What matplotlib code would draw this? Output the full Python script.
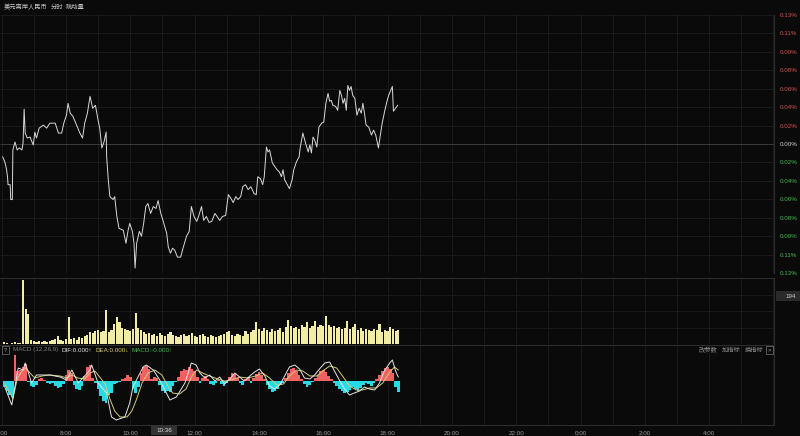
import numpy as np
import matplotlib
matplotlib.use('Agg')
import matplotlib.pyplot as plt
from matplotlib.patches import Rectangle

plt.rcParams['font.family'] = ['Liberation Sans', 'Noto Sans CJK SC', 'DejaVu Sans']

# ---- data ----
# price line: minutes after 6:00, change in %
price_t = [2, 6, 9, 11, 12, 16, 17, 20, 21, 25,
           29, 33, 38, 40, 42, 44, 48, 53, 59, 62,
           65, 70, 78, 84, 90, 100, 106, 112, 116, 121,
           124, 128, 133, 140, 146, 151, 155, 160, 165, 170,
           175, 180, 183, 187, 191, 195, 196, 199, 202, 208,
           211, 215, 219, 227, 232, 236, 239, 244, 247, 249,
           252, 257, 261, 265, 269, 273, 278, 283, 288, 292,
           297, 301, 308, 311, 315, 319, 323, 328, 334, 339,
           345, 350, 354, 359, 364, 368, 373, 377, 382, 387,
           392, 398, 402, 407, 412, 418, 423, 428, 432, 437,
           441, 446, 450, 455, 460, 465, 471, 475, 478, 483,
           487, 490, 494, 497, 500, 505, 510, 514, 518, 522,
           525, 528, 532, 537, 542, 545, 550, 555, 557, 562,
           567, 572, 575, 578, 581, 584, 588, 592, 597, 601,
           605, 609, 612, 615, 618, 623, 627, 631, 634, 637,
           640, 643, 646, 649, 652, 655, 659, 663, 667, 671,
           674, 677, 680, 685, 690, 694, 698, 700, 703, 706,
           710, 715, 719, 722, 726, 729, 731, 735, 739]
price_pct = [-0.013, -0.018, -0.025, -0.033, -0.041, -0.041, -0.056, -0.056, -0.006, 0.002,
             -0.006, -0.004, -0.006, 0.001, 0.035, 0.011, 0.006, 0.007, -0.001, 0.012,
             0.006, 0.016, 0.019, 0.016, 0.021, 0.021, 0.011, 0.011, 0.021, 0.029,
             0.041, 0.031, 0.028, 0.019, 0.011, 0.006, 0.021, 0.031, 0.048, 0.036,
             0.039, 0.024, 0.016, -0.004, 0.002, 0.012, -0.013, -0.036, -0.053, -0.056,
             -0.053, -0.073, -0.085, -0.087, -0.100, -0.087, -0.080, -0.088, -0.100, -0.125,
             -0.100, -0.088, -0.093, -0.080, -0.063, -0.060, -0.070, -0.063, -0.065, -0.057,
             -0.070, -0.077, -0.090, -0.104, -0.110, -0.105, -0.107, -0.114, -0.114, -0.104,
             -0.093, -0.088, -0.063, -0.073, -0.078, -0.072, -0.063, -0.077, -0.073, -0.079,
             -0.078, -0.070, -0.073, -0.077, -0.073, -0.072, -0.051, -0.055, -0.059, -0.053,
             -0.056, -0.053, -0.043, -0.041, -0.046, -0.043, -0.050, -0.051, -0.033, -0.035,
             -0.041, -0.033, -0.003, -0.008, -0.006, -0.019, -0.023, -0.026, -0.028, -0.033,
             -0.026, -0.036, -0.040, -0.045, -0.036, -0.026, -0.018, -0.013, -0.004, 0.011,
             0.001, -0.008, -0.001, -0.009, 0.007, 0.004, -0.003, 0.017, 0.021, 0.022,
             0.041, 0.051, 0.043, 0.044, 0.039, 0.038, 0.034, 0.054, 0.049, 0.041,
             0.046, 0.034, 0.059, 0.054, 0.058, 0.049, 0.046, 0.029, 0.036, 0.031,
             0.041, 0.031, 0.019, 0.017, 0.009, 0.014, 0.009, 0.004, -0.004, 0.007,
             0.021, 0.034, 0.043, 0.049, 0.054, 0.058, 0.033, 0.036, 0.039]

up_labels = ['0.02%', '0.04%', '0.06%', '0.08%', '0.09%', '0.11%', '0.13%']
down_labels = ['0.02%', '0.04%', '0.06%', '0.08%', '0.09%', '0.11%', '0.13%']

# volume per 5-minute bin (6:05 .. 18:20)
volume = [8, 4, 0, 4, 8, 4, 4, 252, 136, 116,
          16, 12, 8, 12, 8, 12, 8, 12, 16, 20, 32, 16, 12, 20,
          104, 20, 24, 16, 28, 24, 32, 36,
          48, 44, 52, 56, 48, 52, 132,
          48, 56, 80, 104, 88, 64, 60, 56, 52, 60, 120, 64, 56, 48, 40, 44,
          36, 40, 32, 44, 36, 32, 40, 48, 36, 32, 28, 36, 40, 32, 36, 44, 32, 28, 36, 40,
          32, 28, 36, 32, 28, 32, 36, 40, 48,
          52, 36, 32, 40, 36, 32, 52, 40, 48, 56, 88,
          60, 52, 64, 56, 48, 60, 52, 56, 64, 48, 68, 96,
          72, 64, 68, 60, 76, 68, 88,
          64, 72, 92, 68, 76, 72, 108, 76, 68, 72, 64, 68, 60, 64, 92, 60, 68, 80,
          56, 64, 52, 60, 56, 52, 60, 56, 80, 48, 56, 52, 68, 60, 52, 56]

# MACD histogram per 5-minute bin
macd_hist = [-6, -10, -14, -16, 26, 10, 11, 14, 17, -1, -5, -6, -4, 2, 3, 1,
             -2, -3, -2, -5, -7, -6, -3, 6, 11, 8, -4, -8, -9, -5, 5, 14, 16, 3,
             -2, -8, -15, -20, -22, -14, -12, -3, -2, -1, 2, 3, 6, 4, -8, -12, -6,
             8, 14, 15, 12, 2, 4, 3, -4, -10, -12, -10, -11, -5, -1,
             4, 10, 12, 11, 14, 12, 10, 4,
             -2, 3, 5, 2, -3, -4, -2, 1, -3, -5, -2, 4, 8, 7, 3, -2, -4, 2, 4, -2,
             3, 7, 9, 6, 2, -4, -8, -11, -10, -8, -4, -2, 3, 8, 12, 13, 10, 6, 2,
             -3, -6, -4, -1, 3, 6, 10, 11, 9, 5, 2, -2, -5, -8, -10, -12, -11, -9,
             -6, -8, -10, -7, -4, -2, -3, -5, -2, 2, 6, 10, 13, 14, 12, 8, -6, -11]

dif_t = [6, 19, 31, 40, 44, 56, 65, 90, 109, 121, 131, 143, 165, 168, 180, 196,
         205, 214, 230, 239, 245, 264, 270, 283, 295, 314, 326, 342, 354, 363,
         370, 379, 388, 398, 407, 416, 426, 435, 444, 453, 463, 472, 481, 491,
         500, 509, 519, 528, 537, 547, 556, 565, 575, 584, 593, 603, 612, 621,
         631, 640, 649, 658, 668, 677, 686, 696, 705, 714, 724, 729, 735, 740]
dif = [-6, -24, 13, 11, 18, -2, 6, 6, 4, 1, 11, -2, 11, 16, -2, -12,
       -36, -39, -36, -22, -6, 14, 16, 11, 1, -19, -16, -2, 18, 16,
       8, 3, 6, 0, 4, -3, 2, 8, 4, 0, 5, 9, 12, 5,
       -5, -8, -4, 5, 14, 16, 12, 3, 2, 6, 12, 18, 19, 10,
       0, -8, -14, -12, -10, -6, -8, -9, -2, 10, 18, 21, 10, 4]

dea_t = [6, 16, 21, 29, 38, 45, 53, 62, 75, 90, 109, 122, 131, 142, 155, 165,
         174, 183, 193, 202, 211, 221, 234, 243, 252, 262, 273, 286, 299, 310,
         319, 332, 344, 355, 364, 375, 388, 403, 416, 429, 444, 459, 474, 487,
         500, 513, 526, 537, 550, 562, 575, 588, 599, 612, 625, 636, 649, 662,
         673, 686, 699, 711, 724, 733, 740]
dea = [-3, -12, -18, 2, 10, 13, 8, 3, 5, 6, 5, 3, 6, 3, 2, 8,
       10, 4, -3, -18, -30, -36, -36, -30, -18, -2, 8, 11, 6, -5,
       -12, -13, -8, 5, 11, 8, 5, 2, 0, 1, 4, 3, 5, 8,
       3, -4, -3, 5, 11, 10, 5, 5, 10, 15, 13, 5, -5, -9,
       -9, -7, -7, -2, 9, 14, 11]

hour_labels = ['6:00', '8:00', '10:00', '12:00', '14:00', '16:00',
               '18:00', '20:00', '22:00', '0:00', '2:00', '4:00']

# ---- styling ----
bg = '#0a0a0a'
grid_c = '#1c1c1c'
border_c = '#2c2c2c'
up_c = '#d4524d'
down_c = '#3dbb48'
fs = 4.5


def fy(px):
    return 1 - px / 436


fig = plt.figure(figsize=(8, 4.36), dpi=100, facecolor=bg)
right = 774 / 800

ax = fig.add_axes([0, fy(273), right, (273 - 15) / 436])
ax_vol = fig.add_axes([0, fy(344), right, (344 - 278) / 436])
ax_macd = fig.add_axes([0, fy(425), right, (425 - 345) / 436])

for a in (ax, ax_vol, ax_macd):
    a.set_facecolor(bg)
    a.set_xlim(-3, 1441)
    for s in a.spines.values():
        s.set_visible(False)
    a.spines['right'].set_visible(True)
    a.spines['right'].set_color(border_c)
    a.spines['right'].set_linewidth(0.8)
    for h in range(0, 1441, 60):
        a.axvline(h, color=grid_c, lw=0.6, zorder=0)
    a.tick_params(axis='x', bottom=False, labelbottom=False)

# main price panel
step = 0.13 / 7
ks = list(range(-7, 8))
ax.set_ylim(-0.13, 0.13)
ax.set_yticks([k * step for k in ks])
ax.set_yticklabels(down_labels[::-1] + ['0.00%'] + up_labels)
ax.tick_params(axis='y', left=True, right=False, labelleft=False, labelright=True,
               length=2, width=0.6, pad=2, labelsize=fs)
for k, tick in zip(ks, ax.yaxis.get_major_ticks()):
    c = up_c if k > 0 else (down_c if k < 0 else '#cfcfcf')
    tick.label2.set_color(c)
    tick.tick1line.set_color(c)
    ax.axhline(k * step, color='#3a3a3a' if k == 0 else grid_c, lw=0.7 if k == 0 else 0.6, zorder=0)
ax.plot(price_t, price_pct, color='#d8d8d8', lw=0.7, zorder=3)

# volume panel
bins = 5 * (np.arange(len(volume)) + 1)
ax_vol.bar(bins, volume, width=4, color='#f1eca6', lw=0, zorder=2)
ax_vol.set_ylim(0, 259)
ax_vol.set_yticks([])
for q in (64.75, 129.5, 194.25):
    ax_vol.axhline(q, color=grid_c, lw=0.6, zorder=0)
ax_vol.spines['top'].set_visible(True)
ax_vol.spines['top'].set_color(border_c)

# MACD panel
hist = np.array(macd_hist)
hbins = 5 * (np.arange(len(hist)) + 1)
ax_macd.bar(hbins, np.where(hist > 0, hist, 0), width=5, color='#f06262', lw=0, zorder=2)
ax_macd.bar(hbins, np.where(hist < 0, hist, 0), width=5, color='#27dbe5', lw=0, zorder=2)
ax_macd.plot(dea_t, dea, color='#d3ca7a', lw=0.7, zorder=3)
ax_macd.plot(dif_t, dif, color='#e4e4e4', lw=0.7, zorder=4)
ax_macd.set_ylim(-44, 36)
ax_macd.set_yticks([])
ax_macd.spines['top'].set_visible(True)
ax_macd.spines['top'].set_color(border_c)
ax_macd.spines['bottom'].set_visible(True)
ax_macd.spines['bottom'].set_color(border_c)
ax_macd.set_xticks(range(0, 1321, 120))
ax_macd.set_xticklabels(hour_labels)
ax_macd.tick_params(axis='x', bottom=False, labelbottom=True, labelsize=fs,
                    labelcolor='#9a9a9a', pad=0.8)

# title row
fig.text(4 / 800, fy(7), '美元离岸人民币', fontsize=fs, color='#c8c8c8', va='center')
fig.text(51 / 800, fy(7), '分时', fontsize=fs, color='#c8c8c8', va='center')
fig.text(66 / 800, fy(7), '跳动量', fontsize=fs, color='#c8c8c8', va='center')

# MACD header
fig.add_artist(Rectangle((2 / 800, fy(354)), 7 / 800, 8 / 436, transform=fig.transFigure,
                         fc='none', ec='#777777', lw=0.5))
fig.text(5.5 / 800, fy(350), '?', fontsize=4, color='#aaaaaa', ha='center', va='center')
fig.text(13 / 800, fy(350), 'MACD (12,26,9)', fontsize=fs, color='#7e7e7e', va='center')
fig.text(61 / 800, fy(350), 'DIF:0.000↑', fontsize=fs, color='#e0e0e0', va='center')
fig.text(95 / 800, fy(350), 'DEA:0.000↓', fontsize=fs, color='#d6cc66', va='center')
fig.text(132 / 800, fy(350), 'MACD:-0.000↑', fontsize=fs, color='#3dbb48', va='center')
for x0, s in ((699, '改参数'), (722, '加指标'), (745, '换指标')):
    fig.text(x0 / 800, fy(350), s, fontsize=fs, color='#8a8a8a', va='center')
fig.add_artist(Rectangle((766 / 800, fy(354)), 7 / 800, 8 / 436, transform=fig.transFigure,
                         fc='none', ec='#777777', lw=0.5))
fig.text(769.5 / 800, fy(350), '×', fontsize=4.5, color='#999999', ha='center', va='center')

# volume value box
fig.add_artist(Rectangle((776 / 800, fy(301)), 24 / 800, 10 / 436, transform=fig.transFigure,
                         fc='#2a2a2a', ec='none'))
fig.text(791 / 800, fy(296), '194', fontsize=fs, color='#cfcfcf', ha='center', va='center')

# crosshair time box
fig.add_artist(Rectangle((151 / 800, fy(435)), 26 / 800, 10 / 436, transform=fig.transFigure,
                         fc='#333333', ec='none'))
fig.text(164 / 800, fy(430), '10:36', fontsize=fs, color='#dddddd', ha='center', va='center')

fig.savefig('out.png', dpi=100, facecolor=bg)
